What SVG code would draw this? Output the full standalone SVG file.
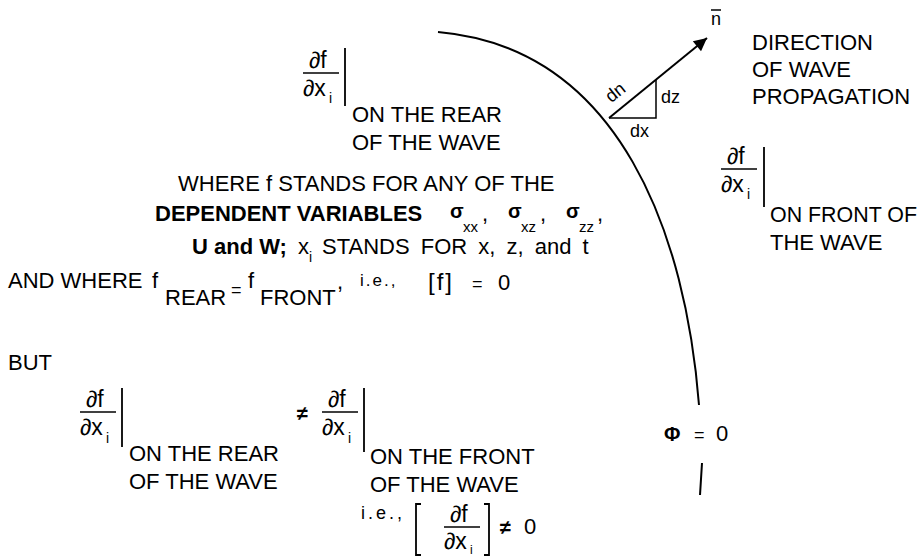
<svg xmlns="http://www.w3.org/2000/svg" width="922" height="557" viewBox="0 0 922 557">
<style>
  text { font-family: "Liberation Sans", "DejaVu Sans", sans-serif; fill: #000; }
  .t { font-size: 22px; }
  .b { font-size: 22px; font-weight: bold; }
  .m { font-size: 23px; }
  .s { font-size: 14px; }
  .sub { font-size: 15px; }
  .d { font-size: 18px; }
  .sig { font-size: 20px; font-weight: bold; }
  .ln { stroke: #000; stroke-width: 2; fill: none; }
  .thin { stroke: #000; stroke-width: 1.5; fill: none; }
  .bar { stroke: #000; stroke-width: 1.8; fill: none; }
  .frac { stroke: #000; stroke-width: 1.5; }
</style>
<defs>
  <marker id="ah" viewBox="0 0 10 10" refX="10" refY="5" markerUnits="userSpaceOnUse" markerWidth="24" markerHeight="13" orient="auto">
    <path d="M0,0 L10,5 L0,10 z" fill="#000"/>
  </marker>
</defs>
<rect width="922" height="557" fill="#fff"/>

<g id="wavefront">
  <path class="ln" d="M438,32 C622,48 686,238 699,405"/>
  <path class="ln" d="M702,463 L700,495"/>
  <g id="phi-label">
    <text x="664" y="441" style="font-size:20px;font-weight:bold">Φ</text>
    <text x="694" y="441" class="d">=</text>
    <text x="716" y="441" class="t">0</text>
  </g>
</g>

<g id="connectors">
  <line x1="609" y1="118" x2="707" y2="38" stroke="#000" stroke-width="2" marker-end="url(#ah)"/>
</g>

<g id="element-triangle">
  <polyline class="thin" points="609,118 656,118 656,80"/>
  <text x="619" y="97" class="d" text-anchor="middle" transform="rotate(-39 619 97)">dn</text>
  <text x="661" y="103" class="d">dz</text>
  <text x="630" y="137" class="d">dx</text>
</g>

<g id="normal-label">
  <text x="711" y="25" class="d">n</text>
  <line x1="711" y1="10" x2="721" y2="10" stroke="#000" stroke-width="1.5"/>
</g>

<g id="direction-label">
  <text x="752" y="50" class="t">DIRECTION</text>
  <text x="752" y="77" class="t">OF WAVE</text>
  <text x="752" y="104" class="t">PROPAGATION</text>
</g>

<g id="rear-derivative">
  <text x="309" y="68" class="m">∂f</text>
  <line class="frac" x1="303" y1="73" x2="339" y2="73"/>
  <text x="303" y="96" class="m">∂x</text>
  <text x="329" y="103" class="s">i</text>
  <line class="bar" x1="345" y1="48" x2="345" y2="106"/>
  <text x="352" y="122" class="t">ON THE REAR</text>
  <text x="352" y="150" class="t">OF THE WAVE</text>
</g>

<g id="front-derivative">
  <text x="727" y="164" class="m">∂f</text>
  <line class="frac" x1="721" y1="169" x2="757" y2="169"/>
  <text x="721" y="192" class="m">∂x</text>
  <text x="747" y="199" class="s">i</text>
  <line class="bar" x1="764" y1="147" x2="764" y2="207"/>
  <text x="770" y="222" class="t" textLength="147" lengthAdjust="spacingAndGlyphs">ON FRONT OF</text>
  <text x="770" y="250" class="t">THE WAVE</text>
</g>

<g id="definition">
  <text x="178" y="191" class="t">WHERE f STANDS FOR ANY OF THE</text>
  <text x="155" y="221" class="b">DEPENDENT VARIABLES</text>
  <text x="450" y="218" class="sig">σ</text>
  <text x="463" y="232" class="sub">xx</text>
  <text x="482" y="221" class="t">,</text>
  <text x="508" y="218" class="sig">σ</text>
  <text x="521" y="232" class="sub">xz</text>
  <text x="540" y="221" class="t">,</text>
  <text x="566" y="218" class="sig">σ</text>
  <text x="579" y="232" class="sub">zz</text>
  <text x="597" y="221" class="t">,</text>
  <text x="192" y="254" class="b">U and W;</text>
  <text x="298" y="254" class="t">x</text>
  <text x="309" y="262" class="s">i</text>
  <text x="322" y="254" class="t" style="word-spacing:5px">STANDS FOR x, z, and t</text>
</g>

<g id="continuity">
  <text x="8" y="288" class="t">AND WHERE</text>
  <text x="152" y="288" class="t">f</text>
  <text x="165" y="305" class="t">REAR</text>
  <text x="231" y="296" class="d">=</text>
  <text x="248" y="288" class="t">f</text>
  <text x="260" y="305" class="t">FRONT</text>
  <text x="337" y="289" class="t">,</text>
  <text x="360" y="286" style="font-size:17px;letter-spacing:2px">i.e.,</text>
  <text x="428" y="290" style="font-size:24px;letter-spacing:2px">[f]</text>
  <text x="472" y="290" class="d">=</text>
  <text x="498" y="290" class="t">0</text>
</g>

<g id="but-statement">
  <text x="8" y="370" class="t">BUT</text>
  <text x="86" y="407" class="m">∂f</text>
  <line class="frac" x1="80" y1="412" x2="116" y2="412"/>
  <text x="80" y="435" class="m">∂x</text>
  <text x="106" y="443" class="s">i</text>
  <line class="bar" x1="122" y1="388" x2="122" y2="447"/>
  <text x="129" y="461" class="t">ON THE REAR</text>
  <text x="129" y="489" class="t">OF THE WAVE</text>
  <text x="297" y="420" style="font-size:20px;font-weight:bold">≠</text>
  <text x="328" y="407" class="m">∂f</text>
  <line class="frac" x1="322" y1="412" x2="358" y2="412"/>
  <text x="322" y="435" class="m">∂x</text>
  <text x="348" y="443" class="s">i</text>
  <line class="bar" x1="364" y1="388" x2="364" y2="452"/>
  <text x="370" y="464" class="t">ON THE FRONT</text>
  <text x="370" y="492" class="t">OF THE WAVE</text>
  <text x="361" y="519" style="font-size:18px;letter-spacing:3px">i.e.,</text>
  <polyline class="bar" points="421,504 416,504 416,555 421,555"/>
  <text x="450" y="522" class="m">∂f</text>
  <line class="frac" x1="444" y1="527" x2="480" y2="527"/>
  <text x="444" y="549" class="m">∂x</text>
  <text x="470" y="554" style="font-size:12px">i</text>
  <polyline class="bar" points="484,504 489,504 489,555 484,555"/>
  <text x="500" y="534" style="font-size:20px;font-weight:bold">≠</text>
  <text x="524" y="534" class="t">0</text>
</g>
</svg>
